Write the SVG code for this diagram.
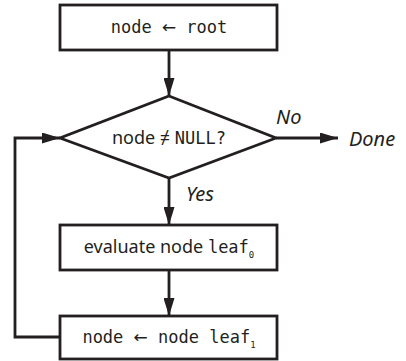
<svg xmlns="http://www.w3.org/2000/svg" width="406" height="361" viewBox="0 0 406 361">
<style>
.box{fill:#fff;stroke:#231f20;stroke-width:2.8}
.ln{fill:none;stroke:#231f20;stroke-width:2.8}
.mono{font-family:"DejaVu Sans Mono","Liberation Mono",monospace;font-size:17px;fill:#231f20}
.arr{font-family:"DejaVu Sans",sans-serif;font-size:17px;fill:#231f20}
.sans{font-family:"Noto Sans","Liberation Sans",sans-serif;font-size:18px;fill:#231f20}
.lbl{font-family:"Noto Sans","Liberation Sans",sans-serif;font-size:20px;font-style:italic;fill:#231f20}
.sub{font-size:9px}
</style>
<defs>
<marker id="ah" viewBox="0 0 18 11" refX="18" refY="5.5" markerWidth="18" markerHeight="11" markerUnits="userSpaceOnUse" orient="auto">
<path d="M0,0 L18,5.5 L0,11 Z" fill="#231f20"/>
</marker>
</defs>
<g id="connectors">
<line class="ln" x1="169" y1="50" x2="169" y2="96" marker-end="url(#ah)"/>
<line class="ln" x1="169" y1="178" x2="169" y2="225" marker-end="url(#ah)"/>
<line class="ln" x1="169" y1="270" x2="169" y2="316" marker-end="url(#ah)"/>
<line class="ln" x1="276" y1="138" x2="338" y2="138" marker-end="url(#ah)"/>
<polyline class="ln" points="60,337 15,337 15,138 60,138" marker-end="url(#ah)"/>
</g>
<g id="n1">
<rect class="box" x="60" y="5" width="217" height="45"/>
<text x="169" y="33" text-anchor="middle"><tspan class="mono">node </tspan><tspan class="arr">←</tspan><tspan class="mono"> root</tspan></text>
</g>
<g id="n2">
<polygon class="box" points="169,96 276,138 169,178 60,138"/>
<text x="169" y="144" text-anchor="middle"><tspan class="sans" font-size="17">node ≠ </tspan><tspan class="mono">NULL?</tspan></text>
</g>
<g id="n3">
<rect class="box" x="60" y="225" width="217" height="45"/>
<text x="169" y="253" text-anchor="middle"><tspan class="sans">evaluate node </tspan><tspan class="mono">leaf</tspan><tspan class="mono sub" dy="5">0</tspan></text>
</g>
<g id="n4">
<rect class="box" x="60" y="316" width="217" height="43"/>
<text x="169" y="343" text-anchor="middle"><tspan class="mono">node </tspan><tspan class="arr">←</tspan><tspan class="mono"> node leaf</tspan><tspan class="mono sub" dy="5">1</tspan></text>
</g>
<g id="labels">
<text class="lbl" x="276" y="124">No</text>
<text class="lbl" x="349" y="146">Done</text>
<text class="lbl" x="186" y="201">Yes</text>
</g>
</svg>
